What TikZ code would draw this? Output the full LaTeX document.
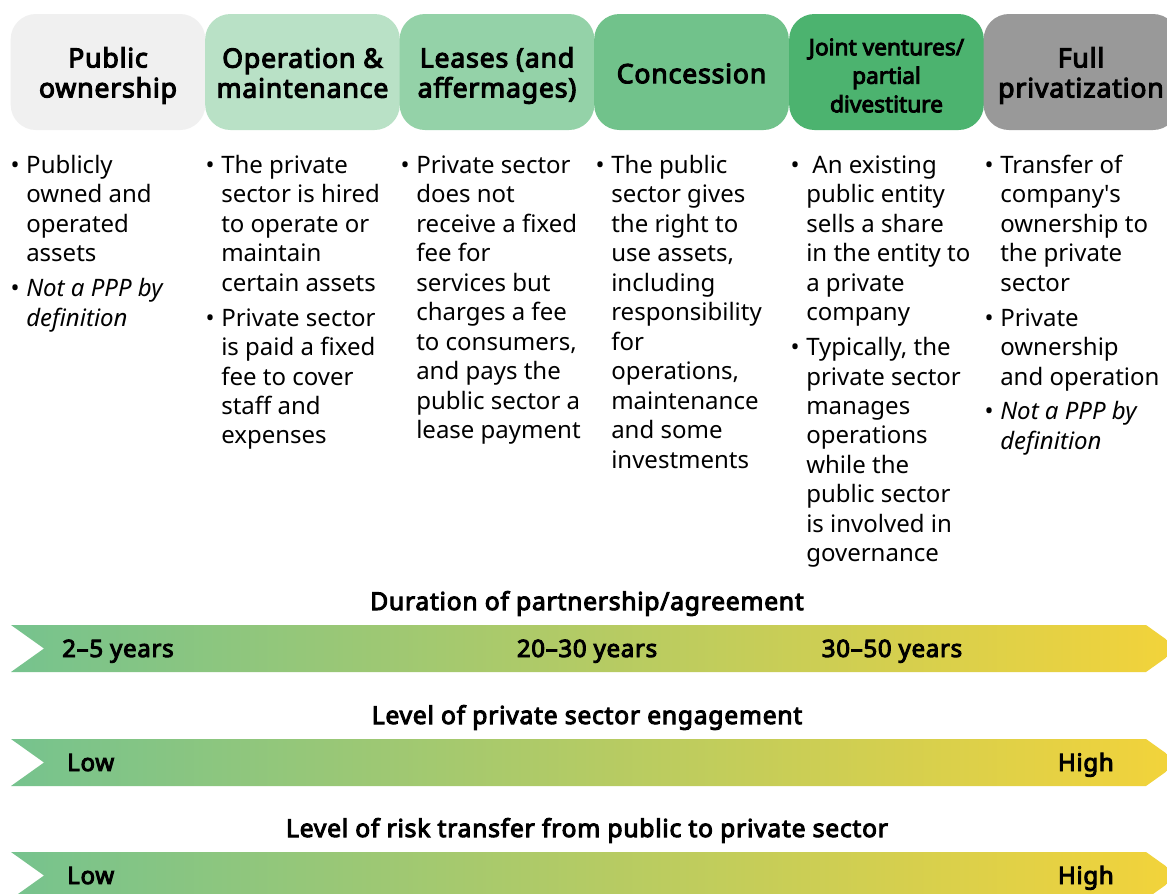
\documentclass[tikz,border=0pt]{standalone}
\usepackage{fontspec}
\setmainfont{Noto Sans}
\newfontfamily\hdfont{Noto Sans}[FakeBold=4, LetterSpace=3]
\newfontfamily\jvfont{Noto Sans}[FakeBold=4]

\definecolor{hdOne}{RGB}{240,240,240}
\definecolor{hdTwo}{RGB}{185,225,198}
\definecolor{hdThree}{RGB}{148,210,168}
\definecolor{hdFour}{RGB}{113,194,139}
\definecolor{hdFive}{RGB}{76,179,111}
\definecolor{hdSix}{RGB}{153,153,153}
\definecolor{bandL}{RGB}{118,195,142}
\definecolor{bandM}{RGB}{176,204,108}
\definecolor{bandR}{RGB}{243,211,58}

\newcommand{\bul}{\strut\llap{\textbullet\hspace{5pt}}}

\tikzset{
  headbox/.style={rounded corners=19pt, minimum width=146pt, minimum height=87pt, inner sep=0pt},
  headtext/.style={inner sep=0pt, align=center, font=\fontsize{20}{22.5}\hdfont},
  colitem/.style={anchor=north west, inner sep=0pt, align=left,
    font=\fontsize{18}{22.1}\selectfont},
  bandtitle/.style={anchor=base, inner sep=0pt, font=\fontsize{18.5}{20}\hdfont},
  bandlabel/.style={inner sep=0pt, font=\fontsize{18}{20}\hdfont},
  band/.style={left color=bandL, middle color=bandM, right color=bandR}
}

\begin{document}
\begin{tikzpicture}[x=0.75pt, y=-0.75pt]
\fill[white] (0,0) rectangle (1167,893);
\useasboundingbox (0,0) rectangle (1167,893);
\clip (0,0) rectangle (1167,893);

% headings
\node[headbox, fill=hdOne] (pubHead) at (108,72) {};
\node[headbox, fill=hdTwo] (omHead) at (302.5,72) {};
\node[headbox, fill=hdThree] (leaseHead) at (497,72) {};
\node[headbox, fill=hdFour] (concHead) at (691.5,72) {};
\node[headbox, fill=hdFive] (jvHead) at (886.5,72) {};
\node[headbox, fill=hdSix] (privHead) at (1081,72) {};

\node[headtext] (pubName) at (108,75.5) {Public\\ownership};
\node[headtext] (omName) at (302.5,73) {Operation \&\\maintenance};
\node[headtext] (leaseName) at (497,75.5) {Leases (and\\affermages)};
\node[headtext] (concName) at (691.5,73.5) {Concession};
\node[headtext, font=\fontsize{17}{21.4}\jvfont] (jvName) at (886.5,75.5) {Joint ventures/\\partial\\divestiture};
\node[headtext] (privName) at (1081,75.5) {Full\\privatization};

% descriptions
\node[colitem] (pubText) at (26,152.5) {\bul Publicly\\owned and\\operated\\assets\\[4pt]
  \bul\textit{Not a PPP by}\\\textit{definition}};
\node[colitem] (omText) at (221,152.5) {\bul The private\\sector is hired\\to operate or\\maintain\\certain assets\\[4pt]
  \bul Private sector\\is paid a fixed\\fee to cover\\staff and\\expenses};
\node[colitem] (leaseText) at (416,152.5) {\bul Private sector\\does not\\receive a fixed\\fee for\\services but\\charges a fee\\to consumers,\\and pays the\\public sector a\\lease payment};
\node[colitem] (concText) at (611,152.5) {\bul The public\\sector gives\\the right to\\use assets,\\including\\responsibility\\for\\operations,\\maintenance\\and some\\investments};
\node[colitem] (jvText) at (806,152.5) {\bul\ An existing\\public entity\\sells a share\\in the entity to\\a private\\company\\[4pt]
  \bul Typically, the\\private sector\\manages\\operations\\while the\\public sector\\is involved in\\governance};
\node[colitem] (privText) at (1000,152.5) {\bul Transfer of\\company\textquotesingle s\\ownership to\\the private\\sector\\[4pt]
  \bul Private\\ownership\\and operation\\[4pt]
  \bul\textit{Not a PPP by}\\\textit{definition}};

% scales
\foreach \y in {625,739,852}
  \path[band] (11,\y) -- (1146,\y) -- (1179,\y+23.5) -- (1146,\y+47) -- (11,\y+47) -- (44,\y+23.5) -- cycle;

\node[bandtitle] (durTitle) at (587,610) {Duration of partnership/agreement};
\node[bandlabel, anchor=base west] (durShort) at (62,657) {2–5 years};
\node[bandlabel, anchor=base] (durMid) at (587,657) {20–30 years};
\node[bandlabel, anchor=base] (durLong) at (892,657) {30–50 years};

\node[bandtitle] (engTitle) at (587,724) {Level of private sector engagement};
\node[bandlabel, anchor=base west] (engLow) at (67,771) {Low};
\node[bandlabel, anchor=base east] (engHigh) at (1114,771) {High};

\node[bandtitle] (riskTitle) at (587,837) {Level of risk transfer from public to private sector};
\node[bandlabel, anchor=base west] (riskLow) at (67,884) {Low};
\node[bandlabel, anchor=base east] (riskHigh) at (1114,884) {High};
\end{tikzpicture}
\end{document}
